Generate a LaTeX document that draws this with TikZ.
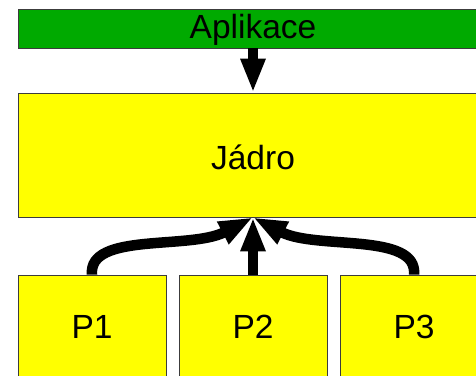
\documentclass[tikz,border=0pt]{standalone}
\usepackage{fontspec}
\setmainfont{Liberation Sans}
\usetikzlibrary{arrows.meta}
\definecolor{appgreen}{RGB}{0,170,0}
\definecolor{boxyellow}{RGB}{255,255,0}
\definecolor{edgegray}{RGB}{60,60,60}
\tikzset{
  label text/.style={font=\fontsize{33.5}{38}\selectfont, text=black},
  box/.style={draw=edgegray, line width=0.8pt, rectangle, inner sep=0pt, label text},
  bigarrow/.style={line width=10.5pt, black, -{Triangle[length=34pt,width=23pt]}},
}
\begin{document}
\begin{tikzpicture}[x=1pt,y=-1pt]
\useasboundingbox (0,0) rectangle (476,375);
\clip (0,0) rectangle (476,375);
\fill[white] (0,0) rectangle (476,375);
\node[box, fill=appgreen, minimum width=470pt, minimum height=39pt] (app) at (253,28.5) {};
\node[label text] at (253,30) (apptext) {Aplikace};
\node[box, fill=boxyellow, minimum width=470pt, minimum height=124pt] (jadro) at (253,155) {};
\node[label text] at (253,157) (jadrotext) {Jádro};
\node[box, fill=boxyellow, minimum width=148pt, minimum height=104pt] (p1) at (92,327) {P1};
\node[box, fill=boxyellow, minimum width=148pt, minimum height=104pt] (p2) at (253,327) {P2};
\node[box, fill=boxyellow, minimum width=148pt, minimum height=104pt] (p3) at (414,327) {P3};
\coordinate (hub) at (jadro.south);
\draw[bigarrow] (app.south) -- (jadro.north);
\draw[bigarrow] (p2.north) -- (hub);
\draw[bigarrow] (p1.north) .. controls (88,232) and (190,250) .. (hub);
\draw[bigarrow] (p3.north) .. controls (418,232) and (316,250) .. (hub);
\end{tikzpicture}
\end{document}
